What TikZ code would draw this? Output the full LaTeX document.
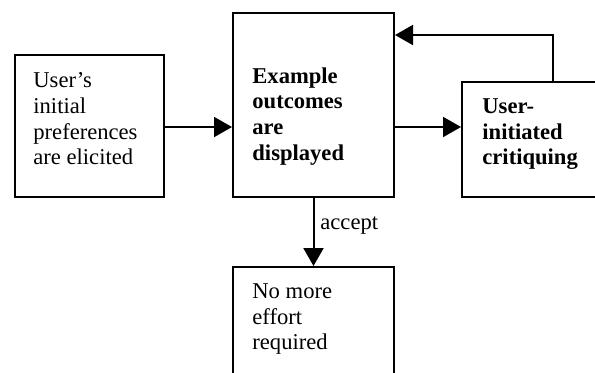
\documentclass[tikz,border=0pt]{standalone}
\usepackage{fontspec}
\setmainfont{Liberation Serif}
\usetikzlibrary{arrows.meta,positioning,calc}
\tikzset{
	stepbox/.style={draw,rectangle,inner sep=0pt,anchor=north west,line width=1pt},
	boxtext/.style={anchor=north west,inner sep=0pt,align=left,
		font=\fontsize{11.3}{12.9}\selectfont},
	boldtext/.style={boxtext,font=\fontsize{11.3}{12.9}\selectfont\bfseries},
	flow/.style={line width=1pt,-{Triangle[length=9pt,width=10pt]}},
}

\begin{document}
\begin{tikzpicture}[x=0.5pt,y=-0.5pt]
	\useasboundingbox (0,0) rectangle (595,372);
	\clip (0,0) rectangle (595,372);

	\node[stepbox,minimum width=74.5pt,minimum height=71pt] (prefs) at (14,54) {};
	\node[boxtext] (prefs-text) at (33,72) {User’s\\initial\\preferences\\are elicited};

	\node[stepbox,minimum width=80.5pt,minimum height=92pt] (display) at (232,12) {};
	\node[boldtext] (display-text) at (252,67) {Example\\outcomes\\are\\displayed};

	\node[stepbox,minimum width=74.5pt,minimum height=57.5pt] (critique) at (461,81) {};
	\node[boldtext] (critique-text) at (482,98) {User-\\initiated\\critiquing};

	\node[stepbox,minimum width=80.5pt,minimum height=67pt] (done) at (232,266) {};
	\node[boxtext] (done-text) at (252,283) {No more\\effort\\required};

	% Arrows
	\coordinate (row) at (0,127);
	\coordinate (loop) at (553,35);
	\draw[flow] (prefs.east |- row) -- (display.west |- row);
	\draw[flow] (display.east |- row) -- (critique.west |- row);
	\draw[flow] (critique.north -| loop) |- (display.east |- loop);
	\draw[flow] (display.south) -- (done.north);
	\node[boxtext,anchor=base west] (accept) at (320,229) {accept};
\end{tikzpicture}
\end{document}
